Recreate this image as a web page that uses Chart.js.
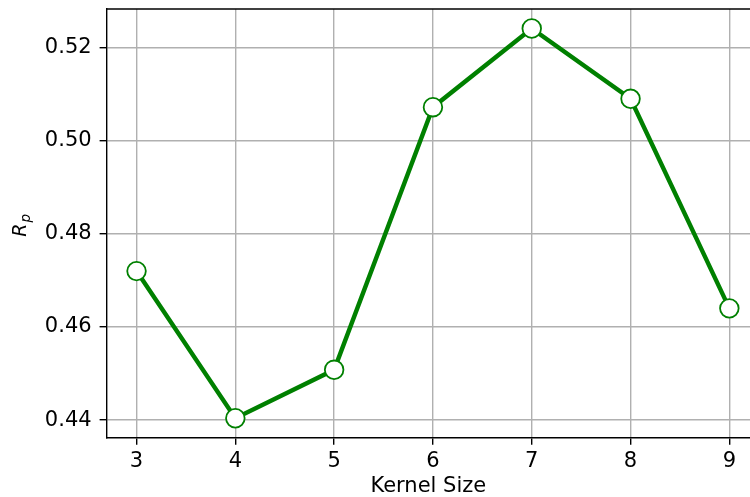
<!DOCTYPE html>
<html>
<head>
<meta charset="utf-8">
<script src="https://cdn.jsdelivr.net/npm/chart.js@4"></script>
<style>
html,body{margin:0;padding:0;background:#fff;overflow:hidden;}
#c{display:block;}
</style>
</head>
<body>
<canvas id="c" width="750" height="497"></canvas>
<script>
const kernelSizes = [3, 4, 5, 6, 7, 8, 9];
const rpValues = [0.4720, 0.4404, 0.4508, 0.5072, 0.5241, 0.5090, 0.4640];
const xTicks = [3, 4, 5, 6, 7, 8, 9];
const yTicks = [0.44, 0.46, 0.48, 0.50, 0.52];
const xLabel = 'Kernel Size';

const FONT = "'DejaVu Sans', sans-serif";

const frame = {
  id: 'frame',
  afterDraw(chart) {
    const {ctx, chartArea: a} = chart;
    ctx.save();
    ctx.strokeStyle = '#000';
    ctx.lineWidth = 1.4;
    ctx.beginPath();
    ctx.moveTo(a.left, a.top); ctx.lineTo(a.right + 2, a.top);
    ctx.stroke();
    // y axis label R_p (italic R with subscript p)
    const cy = (a.top + a.bottom) / 2;
    ctx.translate(26, cy);
    ctx.rotate(-Math.PI / 2);
    ctx.fillStyle = '#000';
    ctx.textBaseline = 'alphabetic';
    ctx.font = 'italic 19px ' + FONT;
    const wR = ctx.measureText('R').width;
    ctx.font = 'italic 13.5px ' + FONT;
    const wp = ctx.measureText('p').width;
    const total = wR + wp + 1;
    const x0 = -total / 2 - 2;
    ctx.font = 'italic 19px ' + FONT;
    ctx.fillText('R', x0, 0);
    ctx.font = 'italic 13.5px ' + FONT;
    ctx.fillText('p', x0 + wR + 1, 4);
    ctx.restore();
  }
};

const points = kernelSizes.map((k, i) => ({x: k, y: rpValues[i]}));

new Chart(document.getElementById('c'), {
  type: 'line',
  data: {
    datasets: [{
      data: points,
      borderColor: '#008000',
      borderWidth: 4.4,
      backgroundColor: '#ffffff',
      pointBackgroundColor: '#ffffff',
      pointBorderColor: '#008000',
      pointBorderWidth: 1.8,
      pointRadius: 9.3,
      pointHoverRadius: 9.3,
      tension: 0,
      clip: false
    }]
  },
  plugins: [frame],
  options: {
    responsive: false,
    animation: false,
    events: [],
    layout: {autoPadding: false, padding: {left: 0, right: 0, top: 9, bottom: 0}},
    plugins: {legend: {display: false}, tooltip: {enabled: false}},
    scales: {
      x: {
        type: 'linear',
        min: 2.697,
        max: 9.209,
        afterBuildTicks(s) { s.ticks = xTicks.map(v => ({value: v})); },
        afterFit(s) { s.height = 59.3; s.paddingLeft = 0; s.paddingRight = 0; },
        grid: {color: '#b0b0b0', lineWidth: 1.4, tickColor: '#000', tickLength: 7, tickWidth: 1.4},
        border: {color: '#000', width: 1.4},
        ticks: {color: '#000', font: {family: FONT, size: 21}, padding: 4, maxRotation: 0,
                callback: v => String(v)},
        title: {display: true, text: xLabel, color: '#000', font: {family: FONT, size: 21, lineHeight: 1.0},
                padding: {top: 0, bottom: 0}}
      },
      y: {
        type: 'linear',
        min: 0.43622,
        max: 0.52829,
        afterBuildTicks(s) { s.ticks = yTicks.map(v => ({value: v})); },
        afterFit(s) { s.width = 106.6; s.paddingTop = 0; s.paddingBottom = 0; },
        grid: {color: '#b0b0b0', lineWidth: 1.4, tickColor: '#000', tickLength: 7, tickWidth: 1.4},
        border: {color: '#000', width: 1.4},
        ticks: {color: '#000', font: {family: FONT, size: 21}, padding: 8,
                callback: v => v.toFixed(2)}
      }
    }
  }
});
</script>
</body>
</html>
